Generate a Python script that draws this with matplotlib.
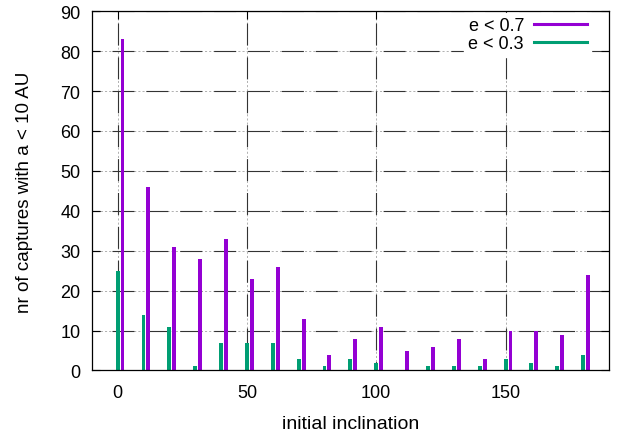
import matplotlib
matplotlib.use("Agg")
import matplotlib.pyplot as plt
import numpy as np

plt.rcParams['font.family'] = ['Liberation Sans', 'DejaVu Sans']
plt.rcParams['lines.scale_dashes'] = False

# data
inclination = [0, 10, 20, 30, 40, 50, 60, 70, 80, 90, 100, 110, 120, 130, 140, 150, 160, 170, 180]
n_e07 = [83, 46, 31, 28, 33, 23, 26, 13, 4, 8, 11, 5, 6, 8, 3, 10, 10, 9, 24]
n_e03 = [25, 14, 11, 1, 7, 7, 7, 3, 1, 3, 2, 0, 1, 1, 1, 3, 2, 1, 4]
xticks = [0, 50, 100, 150]
yticks = list(range(0, 91, 10))

purple = "#9400d3"
green = "#009e73"
fs = 13

fig = plt.figure(figsize=(6.24, 4.35), dpi=100)
ax = fig.add_axes([0.147, 0.146, 0.829, 0.826])

x = np.array(inclination)
bw = 1.5
ax.bar(x + 1.9, n_e07, width=bw, color=purple, zorder=3)
ax.bar(x, n_e03, width=bw, color=green, zorder=3)

# legend handles drawn as lines, like gnuplot
h1, = ax.plot([], [], color=purple, lw=2.2, label="e < 0.7")
h2, = ax.plot([], [], color=green, lw=2.2, label="e < 0.3")

ax.set_xlim(-10, 190)
ax.set_ylim(0, 90)
ax.set_xticks(xticks)
ax.set_yticks(yticks)
ax.tick_params(direction='in', length=6, width=0.8, top=True, right=True,
               labelsize=fs, colors='black')
ax.tick_params(axis='x', pad=10)
ax.tick_params(axis='y', pad=8)

# gnuplot-ish grid: grey dots under long dark dashes
dots = dict(color='#b0b0b0', lw=0.7, linestyle=(0, (1.5, 1.5)), zorder=0.5)
dash = dict(color='#333333', lw=0.8, linestyle=(10, (15.8, 8.6)), zorder=1)
for yv in yticks[1:]:
    ax.axhline(yv, **dots)
    ax.axhline(yv, **dash)
for xv in xticks:
    ax.axvline(xv, **dots)
    ax.axvline(xv, **dash)

for s in ax.spines.values():
    s.set_linewidth(0.9)
    s.set_zorder(4)

ax.set_xlabel("initial inclination", fontsize=14, labelpad=10)
ax.set_ylabel("nr of captures with a < 10 AU", fontsize=13.5, labelpad=20)

leg = ax.legend(handles=[h1, h2], loc='upper right', bbox_to_anchor=(0.966, 0.995),
                borderaxespad=0, markerfirst=False, fontsize=fs, handlelength=2.94,
                frameon=True, framealpha=1, edgecolor='white', fancybox=False,
                borderpad=0.25, labelspacing=0.05, handletextpad=0.55)
leg.set_zorder(5)

fig.savefig("out.png", dpi=100)
